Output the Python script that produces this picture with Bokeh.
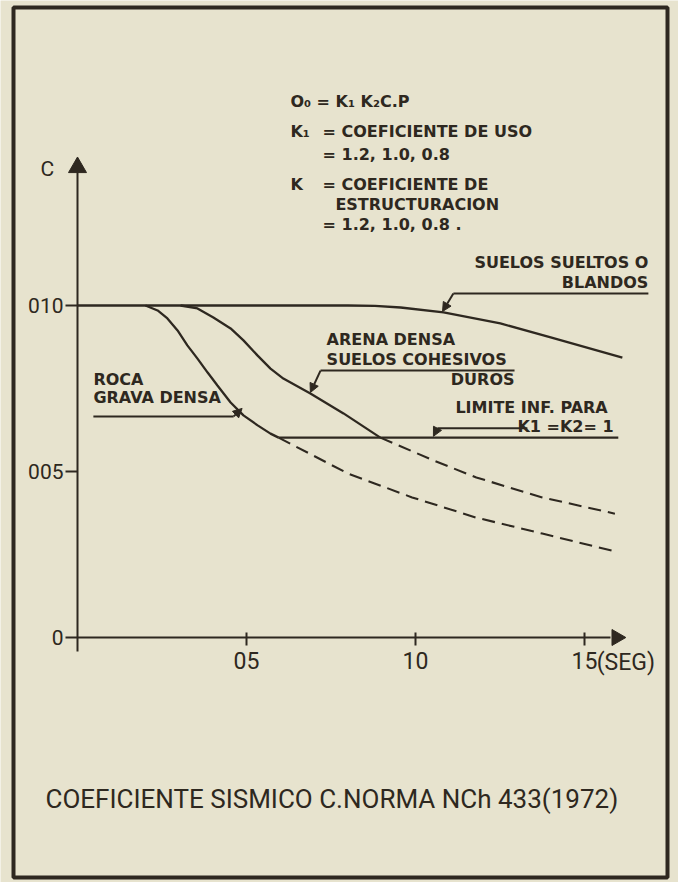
import numpy as np
from bokeh.plotting import figure
from bokeh.models import Range1d, LinearAxis, FixedTicker, Label, Arrow, NormalHead, BoxAnnotation
from bokeh.embed import file_html
from bokeh.resources import INLINE

# ---------------- data (T in seconds, C coefficient) ----------------
t_blandos = [0.0, 0.80, 0.88, 0.956, 1.083, 1.251, 1.40, 1.612]
c_blandos = [0.100, 0.100, 0.0999, 0.0994, 0.0979, 0.0946, 0.0904, 0.0843]

t_roca = [0.201, 0.237, 0.266, 0.296, 0.325, 0.355, 0.385, 0.414, 0.453, 0.491, 0.533, 0.571, 0.595]
c_roca = [0.1000, 0.0985, 0.0961, 0.0925, 0.0880, 0.0840, 0.0798, 0.0759, 0.0708, 0.0669, 0.0639, 0.0614, 0.0602]

t_arena = [0.305, 0.355, 0.402, 0.453, 0.491, 0.533, 0.571, 0.609, 0.689, 0.787, 0.896]
c_arena = [0.1000, 0.0991, 0.0964, 0.0931, 0.0895, 0.0849, 0.0810, 0.0780, 0.0735, 0.0675, 0.0602]

t_limite = [0.595, 1.600]
c_limite = [0.0602, 0.0602]

t_roca_ext = [0.595, 0.80, 0.99, 1.18, 1.375, 1.58]
c_roca_ext = [0.0602, 0.0494, 0.0422, 0.0361, 0.0313, 0.0262]

t_arena_ext = [0.896, 1.054, 1.18, 1.375, 1.59]
c_arena_ext = [0.0602, 0.0533, 0.0482, 0.0422, 0.0373]

x_tick_values = [0.5, 1.0, 1.5]
x_tick_labels = ["05", "10", "15"]
x_unit = "(SEG)"
y_tick_values = [0.0, 0.05, 0.10]
y_tick_labels = ["0", "005", "010"]

BG = "#e7e3ce"
INK = "#2e2820"

W, H = 678, 882
OX, OY = 77, 637          # origin position on the canvas
SX, SY = 338, 3320        # pixels per second / per unit of C
p = figure(width=W, height=H,
           x_range=Range1d(-OX / SX, (W - OX) / SX),
           y_range=Range1d(-(H - OY) / SY, OY / SY),
           x_axis_type=None, y_axis_type=None,
           toolbar_location=None, output_backend="svg",
           min_border=0, background_fill_color=BG, border_fill_color=BG,
           outline_line_color=None)
p.min_border_left = p.min_border_right = p.min_border_top = p.min_border_bottom = 0

# axes through the origin
xaxis = LinearAxis(fixed_location=0, ticker=FixedTicker(ticks=x_tick_values),
                   major_label_overrides=dict(zip(x_tick_values, x_tick_labels)),
                   bounds=(0, 1.577), axis_line_width=2, axis_line_color=INK,
                   major_tick_in=5, major_tick_out=8, major_tick_line_width=2,
                   major_tick_line_color=INK, minor_tick_in=0, minor_tick_out=0,
                   major_label_text_font="Roboto", major_label_text_font_size="23px",
                   major_label_text_color=INK, major_label_standoff=6)
yaxis = LinearAxis(fixed_location=0, ticker=FixedTicker(ticks=y_tick_values),
                   major_label_overrides=dict(zip(y_tick_values, y_tick_labels)),
                   bounds=(-0.0042, 0.1413), axis_line_width=2, axis_line_color=INK,
                   major_tick_in=0, major_tick_out=12, major_tick_line_width=2,
                   major_tick_line_color=INK, minor_tick_in=0, minor_tick_out=0,
                   major_label_text_font="Roboto", major_label_text_font_size="21px",
                   major_label_text_color=INK, major_label_standoff=2)
p.add_layout(xaxis, "below")
p.add_layout(yaxis, "left")

# axis arrowheads
p.scatter(x=[0], y=[0.1416], marker="triangle", size=18, color=INK)
p.scatter(x=[1.595], y=[0], marker="triangle", angle=-np.pi / 2, size=16, color=INK)

# curves
for t, c in [(t_blandos, c_blandos), (t_roca, c_roca), (t_arena, c_arena), (t_limite, c_limite)]:
    p.line(t, c, line_width=2.3, line_color=INK)
for t, c in [(t_roca_ext, c_roca_ext), (t_arena_ext, c_arena_ext)]:
    p.line(t, c, line_width=2.1, line_color=INK, line_dash="13 7")

# frame border
p.add_layout(BoxAnnotation(left=(13 - OX) / SX, right=(667 - OX) / SX,
                           top=(OY - 7) / SY, bottom=(OY - 877) / SY,
                           fill_color=None, fill_alpha=0, line_color=INK,
                           line_alpha=1, line_width=4))

LIFT = 6 / SY   # raise labels so their baselines sit where the reference has them


def lab(x, y, text, size="16px", font="DejaVu Sans", style="bold", align="left"):
    p.add_layout(Label(x=x, y=y + LIFT, text=text, text_font=font, text_font_size=size,
                       text_font_style=style, text_color=INK, text_align=align,
                       text_baseline="alphabetic"))


def leader(xs, ys, tip):
    p.line(xs, ys, line_width=2, line_color=INK)
    p.add_layout(Arrow(x_start=xs[0], y_start=ys[0], x_end=tip[0], y_end=tip[1],
                       line_width=2, line_color=INK,
                       end=NormalHead(size=9, fill_color=INK, line_color=INK)))


# curve annotations
lab(1.689, 0.1111, "SUELOS SUELTOS O", align="right")
lab(1.689, 0.1051, "BLANDOS", align="right")
leader([1.112, 1.689], [0.1036, 0.1036], (1.080, 0.0982))

lab(0.737, 0.0880, "ARENA DENSA")
lab(0.737, 0.0819, "SUELOS COHESIVOS")
lab(1.293, 0.0759, "DUROS", align="right")
leader([0.719, 1.293], [0.0804, 0.0804], (0.689, 0.0738))

lab(0.047, 0.0759, "ROCA")
lab(0.047, 0.0705, "GRAVA DENSA")
leader([0.462, 0.047], [0.0666, 0.0666], (0.487, 0.0690))

lab(1.118, 0.0675, "LIMITE INF. PARA")
lab(1.586, 0.0617, "K1 =K2= 1", align="right")
leader([1.065, 1.331], [0.0630, 0.0630], (1.053, 0.0606))

# formula block
lab(0.630, 0.1596, "O₀ = K₁  K₂C.P")
lab(0.630, 0.1506, "K₁")
lab(0.725, 0.1506, "= COEFICIENTE DE USO")
lab(0.725, 0.1437, "= 1.2, 1.0, 0.8")
lab(0.630, 0.1346, "K")
lab(0.725, 0.1346, "= COEFICIENTE DE")
lab(0.763, 0.1286, "ESTRUCTURACION")
lab(0.725, 0.1226, "= 1.2, 1.0, 0.8 .")

# axis name, unit, title
lab(-0.1095, 0.1392, "C", size="21px", font="Roboto", style="normal")
lab(1.536, -0.0093, x_unit, size="23px", font="Roboto", style="normal")
lab(-0.0947, -0.0506, "COEFICIENTE SISMICO C.NORMA  NCh 433(1972)", size="26px",
    font="Roboto", style="normal")

open("out.html", "w").write(file_html(p, INLINE))
